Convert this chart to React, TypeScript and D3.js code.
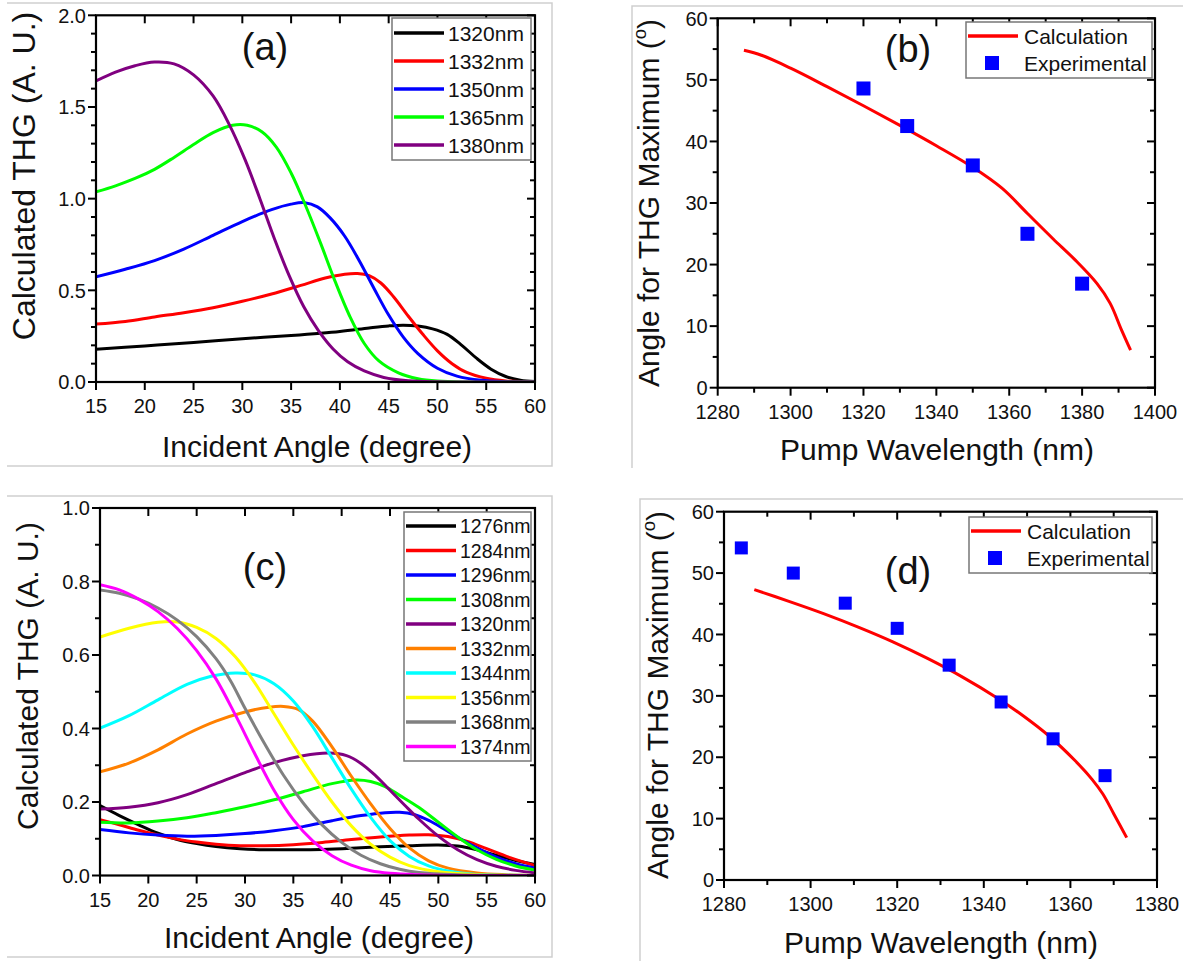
import React from 'react';
import * as d3 from 'd3';

const FONT = "'Liberation Sans', Arial, Helvetica, sans-serif";

// ---------- Panel (a) data: Calculated THG vs incident angle ----------
const legendA = ['1320nm', '1332nm', '1350nm', '1365nm', '1380nm'];
const colorsA = ['#000000', '#ff0000', '#0000ff', '#00ff00', '#800080'];
const a1320: [number, number][] = [[15, 0.178], [20, 0.197], [25, 0.216], [30, 0.236], [35, 0.254], [40, 0.276], [43, 0.295], [45, 0.306], [46.5, 0.31], [48, 0.305], [49.5, 0.29], [51, 0.26], [52.5, 0.2], [54, 0.13], [55.5, 0.07], [57, 0.03], [58.5, 0.01], [60, 0.003]];
const a1332: [number, number][] = [[15, 0.316], [18, 0.33], [21, 0.355], [24, 0.378], [27, 0.405], [30, 0.44], [33, 0.48], [36, 0.527], [38.5, 0.567], [40.5, 0.588], [41.8, 0.592], [43, 0.58], [44.2, 0.54], [45.5, 0.465], [47, 0.36], [48.5, 0.26], [50, 0.17], [51.5, 0.1], [53, 0.052], [55, 0.02], [57, 0.006], [60, 0.001]];
const a1350: [number, number][] = [[15, 0.574], [18, 0.615], [21, 0.662], [24, 0.725], [27, 0.8], [30, 0.875], [33, 0.94], [35, 0.97], [36.4, 0.978], [37.7, 0.955], [39, 0.895], [40.5, 0.795], [42, 0.66], [43.5, 0.51], [45, 0.365], [46.5, 0.245], [48, 0.155], [50, 0.075], [52, 0.032], [54.5, 0.009], [57, 0.002], [60, 0]];
const a1365: [number, number][] = [[15, 1.037], [17, 1.07], [19, 1.11], [21, 1.16], [23, 1.225], [25, 1.295], [27, 1.36], [29, 1.4], [30.5, 1.4], [32, 1.365], [33.5, 1.28], [35, 1.14], [36.5, 0.96], [38, 0.76], [39.5, 0.55], [41, 0.36], [42.5, 0.21], [44, 0.115], [46, 0.05], [48, 0.018], [50, 0.005], [53, 0], [60, 0]];
const a1380: [number, number][] = [[15, 1.642], [17, 1.69], [19, 1.725], [21, 1.745], [23, 1.735], [25, 1.675], [27, 1.56], [28.7, 1.4], [30.3, 1.21], [31.8, 1.0], [33.3, 0.78], [34.8, 0.58], [36.3, 0.41], [37.8, 0.28], [39.3, 0.18], [40.8, 0.11], [42.5, 0.06], [44.5, 0.025], [47, 0.007], [50, 0.001], [60, 0]];
const seriesA = [a1320, a1332, a1350, a1365, a1380];
const xTicksA = [15, 20, 25, 30, 35, 40, 45, 50, 55, 60];
const yTicksA = [0, 0.5, 1.0, 1.5, 2.0];

// ---------- Panel (c) data ----------
const legendC = ['1276nm', '1284nm', '1296nm', '1308nm', '1320nm', '1332nm', '1344nm', '1356nm', '1368nm', '1374nm'];
const colorsC = ['#000000', '#ff0000', '#0000ff', '#00ff00', '#800080', '#ff8000', '#00ffff', '#ffff00', '#808080', '#ff00ff'];
const c1276: [number, number][] = [[15, 0.19], [17, 0.163], [19, 0.138], [21, 0.115], [23, 0.098], [25, 0.087], [27, 0.079], [29.5, 0.073], [32, 0.07], [35, 0.07], [38, 0.071], [41, 0.074], [44, 0.078], [47, 0.081], [50, 0.083], [52, 0.08], [54, 0.07], [56, 0.055], [58, 0.041], [60, 0.03]];
const c1284: [number, number][] = [[15, 0.152], [17, 0.138], [19, 0.123], [21, 0.11], [23, 0.099], [25, 0.091], [27, 0.085], [29.5, 0.081], [32, 0.081], [35, 0.084], [38, 0.09], [41, 0.098], [44, 0.105], [47, 0.11], [49, 0.111], [51, 0.106], [53, 0.093], [55, 0.073], [57.5, 0.048], [60, 0.027]];
const c1296: [number, number][] = [[15, 0.125], [18, 0.116], [21, 0.11], [24, 0.107], [27, 0.109], [30, 0.114], [33, 0.122], [36, 0.133], [39, 0.149], [42, 0.163], [44.5, 0.171], [46, 0.172], [47.5, 0.166], [49, 0.15], [50.5, 0.128], [52, 0.104], [54, 0.075], [56, 0.05], [58, 0.032], [60, 0.02]];
const c1308: [number, number][] = [[15, 0.145], [18, 0.143], [21, 0.148], [24, 0.157], [27, 0.171], [30, 0.187], [33, 0.206], [36, 0.228], [39, 0.25], [41.5, 0.26], [43, 0.256], [44.5, 0.242], [46, 0.218], [48, 0.185], [50, 0.145], [52, 0.105], [54, 0.07], [56, 0.044], [58, 0.026], [60, 0.015]];
const c1320: [number, number][] = [[15, 0.181], [18, 0.186], [21, 0.198], [24, 0.22], [27, 0.25], [30, 0.28], [33, 0.307], [36, 0.326], [38.7, 0.333], [40.5, 0.326], [42, 0.305], [43.5, 0.272], [45, 0.232], [46.5, 0.192], [48, 0.153], [50, 0.107], [52, 0.07], [54, 0.043], [56, 0.025], [58, 0.014], [60, 0.007]];
const c1332: [number, number][] = [[15, 0.282], [18, 0.306], [21, 0.342], [24, 0.385], [27, 0.42], [30, 0.445], [32.5, 0.458], [34, 0.46], [35.5, 0.452], [37, 0.42], [39, 0.35], [41, 0.27], [43, 0.195], [45, 0.128], [47, 0.075], [49, 0.04], [51, 0.02], [54, 0.007], [57, 0.002], [60, 0]];
const c1344: [number, number][] = [[15, 0.401], [18, 0.435], [21, 0.478], [24, 0.52], [26.5, 0.542], [29, 0.551], [31, 0.546], [33, 0.522], [35, 0.475], [37, 0.405], [39, 0.32], [41, 0.235], [43, 0.158], [45, 0.095], [47, 0.052], [49, 0.026], [51, 0.012], [54, 0.003], [60, 0]];
const c1356: [number, number][] = [[15, 0.649], [18, 0.673], [21, 0.689], [23, 0.69], [25, 0.675], [27, 0.645], [29, 0.595], [31, 0.525], [33, 0.44], [35, 0.355], [37, 0.275], [39, 0.2], [41, 0.135], [43, 0.085], [45, 0.05], [47, 0.027], [50, 0.01], [54, 0.002], [60, 0]];
const c1368: [number, number][] = [[15, 0.777], [17, 0.768], [19, 0.752], [21, 0.728], [23, 0.695], [25, 0.65], [27, 0.59], [28.5, 0.53], [30, 0.455], [32, 0.36], [34, 0.272], [36, 0.198], [38, 0.137], [40, 0.09], [42, 0.055], [44, 0.032], [46, 0.017], [48, 0.008], [52, 0.002], [60, 0]];
const c1374: [number, number][] = [[15, 0.791], [17, 0.777], [19, 0.752], [21, 0.718], [23, 0.672], [25, 0.612], [27, 0.535], [29, 0.437], [31, 0.332], [33, 0.232], [35, 0.152], [37, 0.094], [39, 0.054], [41, 0.028], [43, 0.013], [45, 0.006], [48, 0.002], [52, 0], [60, 0]];
const seriesC = [c1276, c1284, c1296, c1308, c1320, c1332, c1344, c1356, c1368, c1374];
const xTicksC = [15, 20, 25, 30, 35, 40, 45, 50, 55, 60];
const yTicksC = [0, 0.2, 0.4, 0.6, 0.8, 1.0];

// ---------- Panel (b) data ----------
const calcB: [number, number][] = [[1287.2, 54.8], [1292, 54.0], [1300, 51.9], [1310, 48.9], [1320, 45.8], [1330, 42.6], [1340, 39.3], [1350, 35.8], [1358, 32.4], [1365, 28.3], [1372, 24.2], [1378, 20.8], [1384.1, 16.9], [1387.7, 13.7], [1390.8, 9.4], [1393.3, 6.1]];
const expWlB = [1320, 1332, 1350, 1365, 1380];
const expAngB = [48.6, 42.5, 36.1, 25.0, 16.9];
const xTicksB = [1280, 1300, 1320, 1340, 1360, 1380, 1400];
const yTicksB = [0, 10, 20, 30, 40, 50, 60];

// ---------- Panel (d) data ----------
const calcD: [number, number][] = [[1287, 47.3], [1295, 45.4], [1303, 43.4], [1311, 41.2], [1319, 38.8], [1327, 36.1], [1335, 33.1], [1343, 29.7], [1349, 26.8], [1355, 23.5], [1361, 19.5], [1365, 16.4], [1367.5, 14.0], [1370, 10.8], [1373, 6.9]];
const expWlD = [1284, 1296, 1308, 1320, 1332, 1344, 1356, 1368];
const expAngD = [54.1, 50.0, 45.1, 41.0, 35.0, 29.0, 23.0, 17.0];
const xTicksD = [1280, 1300, 1320, 1340, 1360, 1380];
const yTicksD = [0, 10, 20, 30, 40, 50, 60];

type Frame = {
  left: number; right: number; top: number; bottom: number;
  xDom: [number, number]; yDom: [number, number];
  xTicks: number[]; yTicks: number[];
  xMinorCount: number | null; yMinorCount: number | null;
  yFmt: (v: number) => string;
};

function Axes({ f }: { f: Frame }) {
  const x = d3.scaleLinear().domain(f.xDom).range([f.left, f.right]);
  const y = d3.scaleLinear().domain(f.yDom).range([f.bottom, f.top]);
  const MJ = 8, MN = 5;
  const xMinor = f.xMinorCount ? x.ticks(f.xMinorCount).filter(v => !f.xTicks.includes(v)) : [];
  const yMinor = f.yMinorCount ? y.ticks(f.yMinorCount).filter(v => !f.yTicks.some(t => Math.abs(t - v) < 1e-9)) : [];
  const els: JSX.Element[] = [];
  f.xTicks.forEach((v, i) => {
    const px = x(v);
    els.push(<line key={'xb' + i} x1={px} x2={px} y1={f.bottom} y2={f.bottom + MJ} />);
    els.push(<line key={'xt' + i} x1={px} x2={px} y1={f.top} y2={f.top + MJ} />);
  });
  xMinor.forEach((v, i) => {
    const px = x(v);
    els.push(<line key={'xbm' + i} x1={px} x2={px} y1={f.bottom} y2={f.bottom + MN} />);
    els.push(<line key={'xtm' + i} x1={px} x2={px} y1={f.top} y2={f.top + MN} />);
  });
  f.yTicks.forEach((v, i) => {
    const py = y(v);
    els.push(<line key={'yl' + i} x1={f.left - MJ} x2={f.left} y1={py} y2={py} />);
    els.push(<line key={'yr' + i} x1={f.right - MJ} x2={f.right} y1={py} y2={py} />);
  });
  yMinor.forEach((v, i) => {
    const py = y(v);
    els.push(<line key={'ylm' + i} x1={f.left - MN} x2={f.left} y1={py} y2={py} />);
    els.push(<line key={'yrm' + i} x1={f.right - MN} x2={f.right} y1={py} y2={py} />);
  });
  return (
    <g>
      <g stroke="#000" strokeWidth={2}>{els}</g>
      <rect x={f.left} y={f.top} width={f.right - f.left} height={f.bottom - f.top} fill="none" stroke="#000" strokeWidth={2.2} />
      <g fontFamily={FONT} fontSize={20} fill="#111">
        {f.xTicks.map((v, i) => (
          <text key={'xl' + i} x={x(v)} y={f.bottom + 31} textAnchor="middle">{String(v)}</text>
        ))}
        {f.yTicks.map((v, i) => (
          <text key={'yl' + i} x={f.left - 10} y={y(v)} dy="0.36em" textAnchor="end">{f.yFmt(v)}</text>
        ))}
      </g>
    </g>
  );
}

function CurvePanel({ f, series, colors }: { f: Frame; series: [number, number][][]; colors: string[] }) {
  const x = d3.scaleLinear().domain(f.xDom).range([f.left, f.right]);
  const y = d3.scaleLinear().domain(f.yDom).range([f.bottom, f.top]);
  const line = d3.line<[number, number]>().x(d => x(d[0])).y(d => y(Math.max(0, d[1]))).curve(d3.curveCatmullRom.alpha(0.5));
  const id = 'clip' + Math.round(f.left) + Math.round(f.top);
  return (
    <g>
      <defs>
        <clipPath id={id}>
          <rect x={f.left} y={f.top} width={f.right - f.left} height={f.bottom - f.top} />
        </clipPath>
      </defs>
      <g clipPath={`url(#${id})`}>
        {series.map((s, i) => (
          <path key={i} d={line(s) || ''} fill="none" stroke={colors[i]} strokeWidth={3} strokeLinejoin="round" />
        ))}
      </g>
    </g>
  );
}

function CurveLegend({ x0, y0, w, h, rowY0, rowDy, labels, colors, fs }: { x0: number; y0: number; w: number; h: number; rowY0: number; rowDy: number; labels: string[]; colors: string[]; fs: number }) {
  return (
    <g>
      <rect x={x0} y={y0} width={w} height={h} fill="#fff" stroke="#777" strokeWidth={1.5} />
      {labels.map((l, i) => {
        const yy = rowY0 + i * rowDy;
        return (
          <g key={i}>
            <line x1={x0 + 2} x2={x0 + 52} y1={yy} y2={yy} stroke={colors[i]} strokeWidth={3.5} />
            <text x={x0 + 56} y={yy} dy="0.36em" fontFamily={FONT} fontSize={fs} fill="#111">{l}</text>
          </g>
        );
      })}
    </g>
  );
}

function AnglePanel({ f, calc, wl, ang, sq }: { f: Frame; calc: [number, number][]; wl: number[]; ang: number[]; sq: number }) {
  const x = d3.scaleLinear().domain(f.xDom).range([f.left, f.right]);
  const y = d3.scaleLinear().domain(f.yDom).range([f.bottom, f.top]);
  const line = d3.line<[number, number]>().x(d => x(d[0])).y(d => y(d[1])).curve(d3.curveCatmullRom.alpha(0.5));
  return (
    <g>
      <path d={line(calc) || ''} fill="none" stroke="#ff0000" strokeWidth={3} />
      {wl.map((w, i) => (
        <rect key={i} x={x(w) - sq / 2} y={y(ang[i]) - sq / 2} width={sq} height={sq} fill="#0000ff" />
      ))}
    </g>
  );
}

function AngleLegend({ x0, y0, w, h, sq }: { x0: number; y0: number; w: number; h: number; sq: number }) {
  return (
    <g fontFamily={FONT} fontSize={21} fill="#111">
      <rect x={x0} y={y0} width={w} height={h} fill="#fff" stroke="#777" strokeWidth={1.5} />
      <line x1={x0 + 2} x2={x0 + 52} y1={y0 + 14} y2={y0 + 14} stroke="#ff0000" strokeWidth={3.5} />
      <text x={x0 + 58} y={y0 + 14} dy="0.36em">Calculation</text>
      <rect x={x0 + 26 - sq / 2} y={y0 + 41 - sq / 2} width={sq} height={sq} fill="#0000ff" />
      <text x={x0 + 58} y={y0 + 41} dy="0.36em">Experimental</text>
    </g>
  );
}

function YLabelDeg({ cx, cy, fs }: { cx: number; cy: number; fs: number }) {
  return (
    <text transform={`translate(${cx},${cy}) rotate(-90)`} textAnchor="middle" dy="0.36em" fontFamily={FONT} fontSize={fs} fill="#111">
      Angle for THG Maximum (<tspan fontSize={fs * 0.62} dy={-fs * 0.42}>o</tspan><tspan dy={fs * 0.42}>)</tspan>
    </text>
  );
}

const fmt1 = d3.format('.1f');
const fmt0 = d3.format('d');

const frameA: Frame = { left: 96, right: 535, top: 15.3, bottom: 382, xDom: [15, 60], yDom: [0, 2], xTicks: xTicksA, yTicks: yTicksA, xMinorCount: null, yMinorCount: 20, yFmt: fmt1 };
const frameC: Frame = { left: 100, right: 535, top: 508, bottom: 875.5, xDom: [15, 60], yDom: [0, 1], xTicks: xTicksC, yTicks: yTicksC, xMinorCount: null, yMinorCount: 10, yFmt: fmt1 };
const frameB: Frame = { left: 717.7, right: 1155, top: 18.3, bottom: 387.7, xDom: [1280, 1400], yDom: [0, 60], xTicks: xTicksB, yTicks: yTicksB, xMinorCount: 12, yMinorCount: 12, yFmt: fmt0 };
const frameD: Frame = { left: 724, right: 1157, top: 511.7, bottom: 880, xDom: [1280, 1380], yDom: [0, 60], xTicks: xTicksD, yTicks: yTicksD, xMinorCount: 10, yMinorCount: 12, yFmt: fmt0 };

export default function App() {
  const border = '#cfcfcf';
  return (
    <svg width={1183} height={961} viewBox="0 0 1183 961" style={{ position: 'absolute', left: 0, top: 0, background: '#fff' }}>
      <rect x={0} y={0} width={1183} height={961} fill="#fff" />
      {/* panel borders */}
      <g stroke={border} strokeWidth={1.5} fill="none">
        <polyline points="7,3 552,3 552,466 7,466" />
        <polyline points="1183,6 632,6 632,468" />
        <polyline points="7,496 552,496 552,957 7,957" />
        <polyline points="1183,499 640,499 640,961" />
      </g>

      {/* Panel (a) */}
      <CurvePanel f={frameA} series={seriesA} colors={colorsA} />
      <Axes f={frameA} />
      <CurveLegend x0={392} y0={18} w={139} h={142} rowY0={33} rowDy={28} labels={legendA} colors={colorsA} fs={21} />
      <text x={265} y={60} textAnchor="middle" fontFamily={FONT} fontSize={38} fill="#111">(a)</text>
      <text transform="translate(23,176) rotate(-90)" textAnchor="middle" dy="0.36em" fontFamily={FONT} fontSize={32} fill="#111">Calculated THG (A. U.)</text>
      <text x={317} y={457} textAnchor="middle" fontFamily={FONT} fontSize={30} fill="#111">Incident Angle (degree)</text>

      {/* Panel (b) */}
      <AnglePanel f={frameB} calc={calcB} wl={expWlB} ang={expAngB} sq={14} />
      <Axes f={frameB} />
      <AngleLegend x0={966} y0={22} w={186} h={56} sq={14} />
      <text x={908} y={62} textAnchor="middle" fontFamily={FONT} fontSize={38} fill="#111">(b)</text>
      <YLabelDeg cx={648} cy={203} fs={30} />
      <text x={937} y={460} textAnchor="middle" fontFamily={FONT} fontSize={30} fill="#111">Pump Wavelength (nm)</text>

      {/* Panel (c) */}
      <CurvePanel f={frameC} series={seriesC} colors={colorsC} />
      <Axes f={frameC} />
      <CurveLegend x0={404} y0={512} w={127} h={249} rowY0={526} rowDy={24.5} labels={legendC} colors={colorsC} fs={19.5} />
      <text x={265} y={580} textAnchor="middle" fontFamily={FONT} fontSize={38} fill="#111">(c)</text>
      <text transform="translate(27,676) rotate(-90)" textAnchor="middle" dy="0.36em" fontFamily={FONT} fontSize={30} fill="#111">Calculated THG (A. U.)</text>
      <text x={319} y={948} textAnchor="middle" fontFamily={FONT} fontSize={30} fill="#111">Incident Angle (degree)</text>

      {/* Panel (d) */}
      <AnglePanel f={frameD} calc={calcD} wl={expWlD} ang={expAngD} sq={13} />
      <Axes f={frameD} />
      <AngleLegend x0={969} y0={517} w={183} h={56} sq={14} />
      <text x={908} y={584} textAnchor="middle" fontFamily={FONT} fontSize={38} fill="#111">(d)</text>
      <YLabelDeg cx={657} cy={695} fs={30} />
      <text x={941} y={953} textAnchor="middle" fontFamily={FONT} fontSize={30} fill="#111">Pump Wavelength (nm)</text>
    </svg>
  );
}
